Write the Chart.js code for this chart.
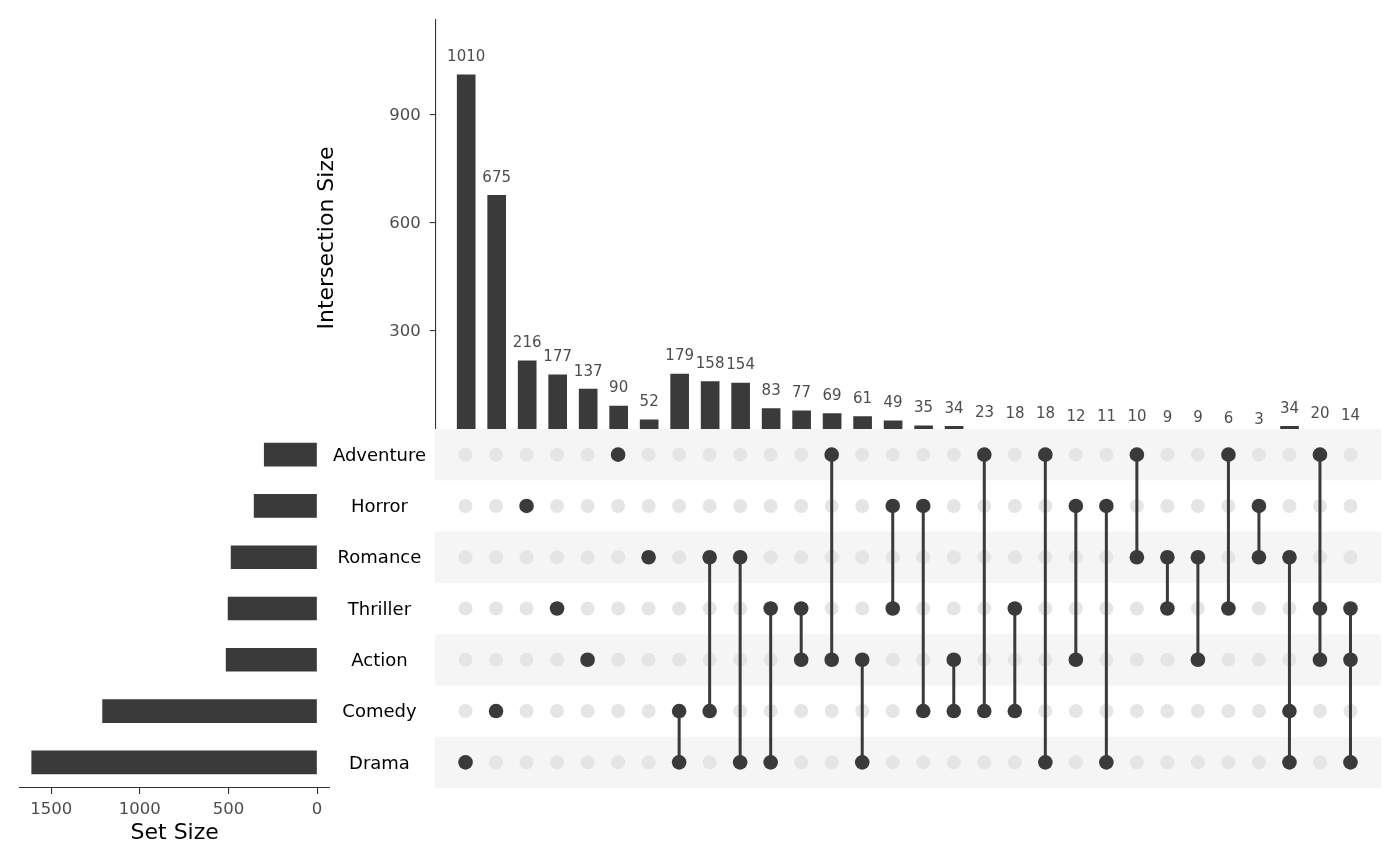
<!DOCTYPE html>
<html>
<head>
<meta charset="utf-8">
<script src="https://cdn.jsdelivr.net/npm/chart.js@4.4.1/dist/chart.umd.min.js"></script>
<style>
  body { margin: 0; background: #fff; }
  #wrap { position: relative; width: 1400px; height: 866px; overflow: hidden; }
  canvas { position: absolute; }
  #bars { left: 0; top: 0; z-index: 1; }
  #matrix { left: 330px; top: 429px; z-index: 2; background: #fff; }
  #sizes { left: 0; top: 429px; z-index: 3; }
</style>
</head>
<body>
<div id="wrap">
  <canvas id="bars" width="1400" height="470"></canvas>
  <canvas id="matrix" width="1070" height="359"></canvas>
  <canvas id="sizes" width="330" height="437"></canvas>
</div>
<script>
const setNames = ['Adventure', 'Horror', 'Romance', 'Thriller', 'Action', 'Comedy', 'Drama'];
const setSizes = [298, 355, 485, 502, 513, 1210, 1610];

const intersectionSizes = [1010, 675, 216, 177, 137, 90, 52, 179, 158, 154, 83, 77, 69, 61, 49,
  35, 34, 23, 18, 18, 12, 11, 10, 9, 9, 6, 3, 34, 20, 14];
const intersectionSets = [
  ['Drama'], ['Comedy'], ['Horror'], ['Thriller'], ['Action'], ['Adventure'], ['Romance'],
  ['Comedy', 'Drama'], ['Romance', 'Comedy'], ['Romance', 'Drama'], ['Thriller', 'Drama'],
  ['Thriller', 'Action'], ['Adventure', 'Action'], ['Action', 'Drama'], ['Horror', 'Thriller'],
  ['Horror', 'Comedy'], ['Action', 'Comedy'], ['Adventure', 'Comedy'], ['Thriller', 'Comedy'],
  ['Adventure', 'Drama'], ['Horror', 'Action'], ['Horror', 'Drama'], ['Adventure', 'Romance'],
  ['Romance', 'Thriller'], ['Romance', 'Action'], ['Adventure', 'Thriller'], ['Horror', 'Romance'],
  ['Romance', 'Comedy', 'Drama'], ['Adventure', 'Thriller', 'Action'], ['Thriller', 'Action', 'Drama']
];

const countTicks = [0, 300, 600, 900];
const sizeTicks = [0, 500, 1000, 1500];

const dark = '#3a3a3a';
const axisCol = '#333333';
const tickText = '#4d4d4d';
Chart.defaults.font.family = "'DejaVu Sans', sans-serif";
Chart.defaults.layout.autoPadding = false;

// numbers over the intersection bars
const countLabels = {
  id: 'countLabels',
  afterDatasetsDraw(chart) {
    const { ctx, scales: { x, y } } = chart;
    ctx.save();
    ctx.font = "15px 'DejaVu Sans'";
    ctx.fillStyle = tickText;
    ctx.textAlign = 'center';
    ctx.textBaseline = 'middle';
    intersectionSizes.forEach((v, i) => {
      ctx.fillText(String(v), x.getPixelForValue(i + 1), y.getPixelForValue(v) - 17.5);
    });
    ctx.restore();
  }
};

// grey stripes behind every other set row
const stripes = {
  id: 'stripes',
  beforeDatasetsDraw(chart) {
    const { ctx, chartArea, scales: { y } } = chart;
    ctx.save();
    ctx.fillStyle = '#f5f5f5';
    for (let r = 0; r < setNames.length; r += 2) {
      const y1 = y.getPixelForValue(r - 0.5);
      const y2 = y.getPixelForValue(r + 0.5);
      ctx.fillRect(chartArea.left, Math.min(y1, y2), chartArea.right - chartArea.left, Math.abs(y2 - y1));
    }
    ctx.restore();
  }
};

new Chart(document.getElementById('bars'), {
  type: 'bar',
  data: {
    datasets: [{
      data: intersectionSizes.map((v, i) => ({ x: i + 1, y: v })),
      backgroundColor: dark,
      barThickness: 18
    }]
  },
  options: {
    responsive: false,
    animation: false,
    layout: { padding: { left: 308.8, top: 19.3, bottom: 13.3, right: 19 } },
    plugins: { legend: { display: false }, tooltip: { enabled: false } },
    scales: {
      x: { type: 'linear', min: 0, max: 31, offset: false, display: false },
      y: {
        min: -50.5,
        max: 1164,
        afterBuildTicks: s => { s.ticks = countTicks.map(v => ({ value: v })); },
        afterFit: s => { s.width = 126.9; s.paddingTop = 0; s.paddingBottom = 0; },
        grid: { drawOnChartArea: false, tickLength: 6, color: axisCol, lineWidth: 1.1 },
        border: { color: axisCol, width: 1.1 },
        ticks: { font: { size: 16.5 }, color: tickText, padding: 9, labelOffset: 1, callback: v => String(v) },
        title: { display: true, text: 'Intersection Size', font: { size: 22 }, color: '#000', padding: { top: 5, bottom: 4 } }
      }
    }
  },
  plugins: [countLabels]
});

const emptyDots = [];
const fullDots = [];
const links = [];
intersectionSets.forEach((sets, i) => {
  const rows = sets.map(n => setNames.indexOf(n));
  setNames.forEach((n, r) => { if (!rows.includes(r)) emptyDots.push({ x: i + 1, y: r }); });
  rows.forEach(r => fullDots.push({ x: i + 1, y: r }));
  if (rows.length > 1) {
    links.push({ x: i + 1, y: Math.min(...rows) }, { x: i + 1, y: Math.max(...rows) }, { x: i + 1, y: null });
  }
});

new Chart(document.getElementById('matrix'), {
  type: 'scatter',
  data: {
    datasets: [
      { data: fullDots, pointRadius: 7.3, backgroundColor: dark, borderWidth: 0, order: 1 },
      { type: 'line', data: links, borderColor: dark, borderWidth: 3, pointRadius: 0, spanGaps: false, order: 2 },
      { data: emptyDots, pointRadius: 7, backgroundColor: '#e5e5e5', borderWidth: 0, order: 3 }
    ]
  },
  options: {
    responsive: false,
    animation: false,
    layout: { padding: { left: 0, top: 0, bottom: 0, right: 19 } },
    plugins: { legend: { display: false }, tooltip: { enabled: false } },
    scales: {
      x: { type: 'linear', min: 0, max: 31, display: false },
      y: {
        type: 'linear',
        min: -0.5,
        max: 6.5,
        reverse: true,
        afterBuildTicks: s => { s.ticks = setNames.map((n, r) => ({ value: r })); },
        afterFit: s => { s.width = 105; s.paddingTop = 0; s.paddingBottom = 0; },
        grid: { display: false, drawTicks: false },
        border: { display: false },
        ticks: { font: { size: 18 }, color: '#000', crossAlign: 'center', padding: 9, labelOffset: 1.5, callback: v => setNames[v] }
      }
    }
  },
  plugins: [stripes]
});

new Chart(document.getElementById('sizes'), {
  type: 'bar',
  data: {
    labels: setNames,
    datasets: [{ data: setSizes, backgroundColor: dark, barThickness: 23 }]
  },
  options: {
    indexAxis: 'y',
    responsive: false,
    animation: false,
    layout: { padding: { left: 19.3, right: 0, top: 0, bottom: 0 } },
    plugins: { legend: { display: false }, tooltip: { enabled: false } },
    scales: {
      x: {
        reverse: true,
        min: -73,
        max: 1680,
        afterBuildTicks: s => { s.ticks = sizeTicks.map(v => ({ value: v })); },
        afterFit: s => { s.height = 78; s.paddingLeft = 0; s.paddingRight = 0; },
        grid: { drawOnChartArea: false, tickLength: 6, color: axisCol, lineWidth: 1.1 },
        border: { color: axisCol, width: 1.1 },
        ticks: { font: { size: 16.5 }, color: tickText, padding: 6, callback: v => String(v) },
        title: { display: true, text: 'Set Size', font: { size: 22 }, color: '#000', padding: { top: 0, bottom: 19.8 } }
      },
      y: { display: false }
    }
  }
});
</script>
</body>
</html>
